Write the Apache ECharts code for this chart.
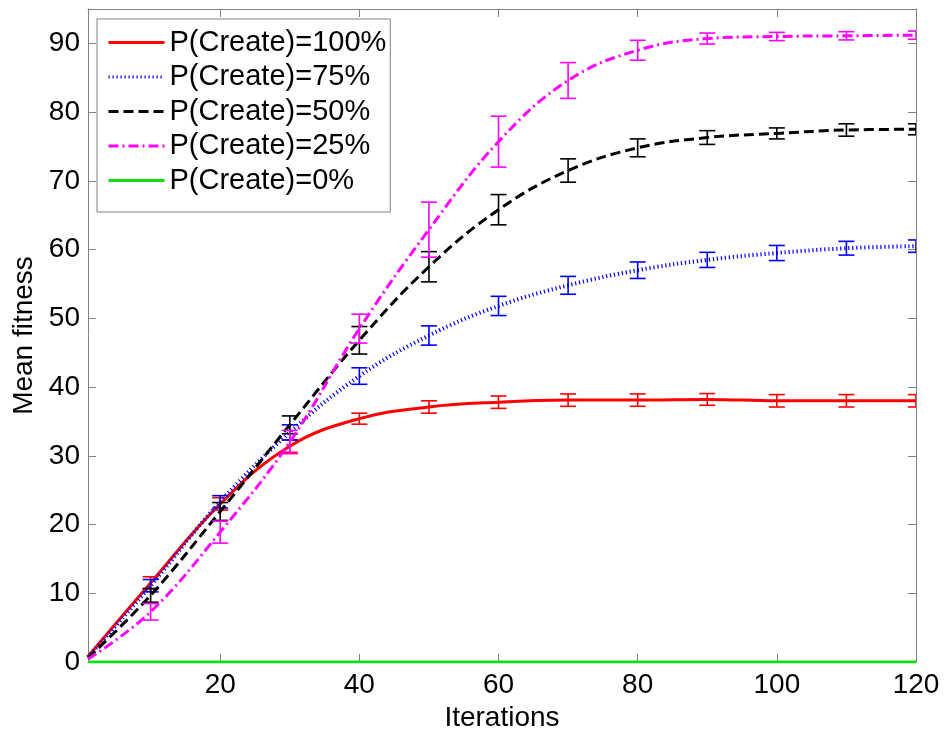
<!DOCTYPE html>
<html>
<head>
<meta charset="utf-8">
<script src="https://cdn.jsdelivr.net/npm/echarts@6/dist/echarts.min.js"></script>
<style>
html,body{margin:0;padding:0;background:#fff;}
#chart{width:946px;height:734px;}
</style>
</head>
<body>
<div id="chart"></div>
<script>
// ---- data ----
const iterations = [1, 10, 20, 30, 40, 50, 60, 70, 80, 90, 100, 110, 120];
const xTicks = [20, 40, 60, 80, 100, 120];
const yTicks = [0, 10, 20, 30, 40, 50, 60, 70, 80, 90];
const seriesNames = ['P(Create)=100%', 'P(Create)=75%', 'P(Create)=50%', 'P(Create)=25%', 'P(Create)=0%'];
const p100 = [0.8, 11.5, 23.0, 31.4, 35.4, 37.1, 37.8, 38.1, 38.1, 38.2, 38.0, 38.0, 38.0];
const p100Err = [0.2, 0.9, 0.9, 0.9, 0.8, 0.9, 0.9, 0.9, 0.9, 0.85, 0.9, 0.9, 0.9];
const p75 = [0.7, 11.1, 23.3, 33.4, 41.6, 47.5, 51.8, 54.8, 57.0, 58.5, 59.5, 60.2, 60.5];
const p75Err = [0.2, 0.9, 0.9, 1.1, 1.2, 1.4, 1.4, 1.3, 1.2, 1.1, 1.1, 1.0, 0.9];
const p50 = [0.6, 9.7, 21.9, 34.5, 46.8, 57.5, 65.8, 71.5, 74.8, 76.3, 76.9, 77.4, 77.5];
const p50Err = [0.2, 1.0, 1.3, 1.3, 2.0, 2.2, 2.2, 1.7, 1.3, 1.0, 0.8, 0.9, 0.8];
const p25 = [0.4, 7.3, 18.9, 32.0, 48.5, 62.9, 75.7, 84.6, 89.0, 90.7, 91.0, 91.1, 91.2];
const p25Err = [0.2, 1.2, 1.6, 1.7, 2.1, 4.0, 3.7, 2.6, 1.45, 0.8, 0.6, 0.6, 0.6];
const p0 = [0, 0, 0, 0, 0, 0, 0, 0, 0, 0, 0, 0, 0];
const p0Err = [0, 0, 0, 0, 0, 0, 0, 0, 0, 0, 0, 0, 0];

const colors = ['#ff0000', '#0000ff', '#000000', '#ff00ff', '#11dd11'];
const lineStyles = [
  { width: 3, type: 'solid' },
  { width: 4, type: [1.2, 2.8], cap: 'butt' },
  { width: 3, type: [10, 5], cap: 'butt' },
  { width: 3, type: [10, 4, 2, 4], cap: 'butt' },
  { width: 3, type: 'solid' }
];
const means = [p100, p75, p50, p25, p0];
const errs = [p100Err, p75Err, p50Err, p25Err, p0Err];

const FONT = "'Liberation Sans', Arial, sans-serif";
const axisGray = '#808080';

function errRender(color) {
  return function (params, api) {
    const x = api.value(0), lo = api.value(1), hi = api.value(2);
    const a = api.coord([x, lo]);
    const b = api.coord([x, hi]);
    const hw = 8;
    const st = { stroke: color, lineWidth: 1.6 };
    return {
      type: 'group',
      children: [
        { type: 'line', shape: { x1: a[0], y1: a[1], x2: b[0], y2: b[1] }, style: st },
        { type: 'line', shape: { x1: a[0] - hw, y1: a[1], x2: a[0] + hw, y2: a[1] }, style: st },
        { type: 'line', shape: { x1: b[0] - hw, y1: b[1], x2: b[0] + hw, y2: b[1] }, style: st }
      ]
    };
  };
}

const series = [];
for (let i = 0; i < 5; i++) {
  series.push({
    name: seriesNames[i],
    type: 'line',
    data: iterations.map((x, k) => [x, means[i][k]]),
    smooth: 0.4,
    symbol: 'none',
    lineStyle: Object.assign({ color: colors[i] }, lineStyles[i]),
    itemStyle: { color: colors[i] },
    z: 3 + i * 2,
    animation: false
  });
  series.push({
    name: 'err' + i,
    type: 'custom',
    clip: true,
    renderItem: errRender(colors[i]),
    data: iterations.slice(1).map((x, k) => [x, means[i][k + 1] - errs[i][k + 1], means[i][k + 1] + errs[i][k + 1]]),
    encode: { x: 0, y: [1, 2] },
    z: 4 + i * 2,
    animation: false
  });
}

const chart = echarts.init(document.getElementById('chart'), null, { renderer: 'canvas' });
chart.setOption({
  backgroundColor: '#ffffff',
  animation: false,
  textStyle: { fontFamily: FONT },
  grid: { left: 88, right: 30, top: 9, bottom: 72, containLabel: false, outerBoundsMode: 'none' },
  legend: {
    data: seriesNames,
    orient: 'vertical',
    left: 97,
    top: 19,
    padding: [9, 4, 17, 10],
    itemGap: 5.5,
    itemWidth: 56,
    itemHeight: 14,
    itemStyle: { opacity: 0, borderWidth: 0 },
    lineStyle: { width: 3 },
    backgroundColor: '#ffffff',
    borderColor: axisGray,
    borderWidth: 1,
    borderRadius: 0,
    textStyle: { fontSize: 29, color: '#000', fontFamily: FONT, padding: [0, 0, 0, 0] }
  },
  xAxis: [{
    type: 'value',
    min: 1,
    max: 120,
    name: 'Iterations',
    nameLocation: 'middle',
    nameGap: 41,
    nameTextStyle: { fontSize: 28, color: '#000', fontFamily: FONT },
    axisLine: { show: true, onZero: false, lineStyle: { color: axisGray, width: 1 } },
    axisTick: { show: true, inside: true, length: 8, customValues: xTicks, lineStyle: { color: axisGray } },
    axisLabel: { customValues: xTicks, fontSize: 28, color: '#000', margin: 9, fontFamily: FONT },
    splitLine: { show: false }
  }, {
    type: 'value',
    position: 'top',
    min: 1,
    max: 120,
    axisLine: { show: true, onZero: false, lineStyle: { color: axisGray, width: 1 } },
    axisTick: { show: true, inside: true, length: 8, customValues: xTicks, lineStyle: { color: axisGray } },
    axisLabel: { show: false },
    splitLine: { show: false }
  }],
  yAxis: [{
    type: 'value',
    min: 0,
    max: 95,
    name: 'Mean fitness',
    nameLocation: 'middle',
    nameGap: 50,
    nameRotate: 90,
    nameTextStyle: { fontSize: 28, color: '#000', fontFamily: FONT },
    axisLine: { show: true, onZero: false, lineStyle: { color: axisGray, width: 1 } },
    axisTick: { show: true, inside: true, length: 8, customValues: yTicks, lineStyle: { color: axisGray } },
    axisLabel: { customValues: yTicks, fontSize: 28, color: '#000', margin: 8, fontFamily: FONT },
    splitLine: { show: false }
  }, {
    type: 'value',
    position: 'right',
    min: 0,
    max: 95,
    axisLine: { show: true, onZero: false, lineStyle: { color: axisGray, width: 1 } },
    axisTick: { show: true, inside: true, length: 8, customValues: yTicks, lineStyle: { color: axisGray } },
    axisLabel: { show: false },
    splitLine: { show: false }
  }],
  series: series
});
</script>
</body>
</html>
